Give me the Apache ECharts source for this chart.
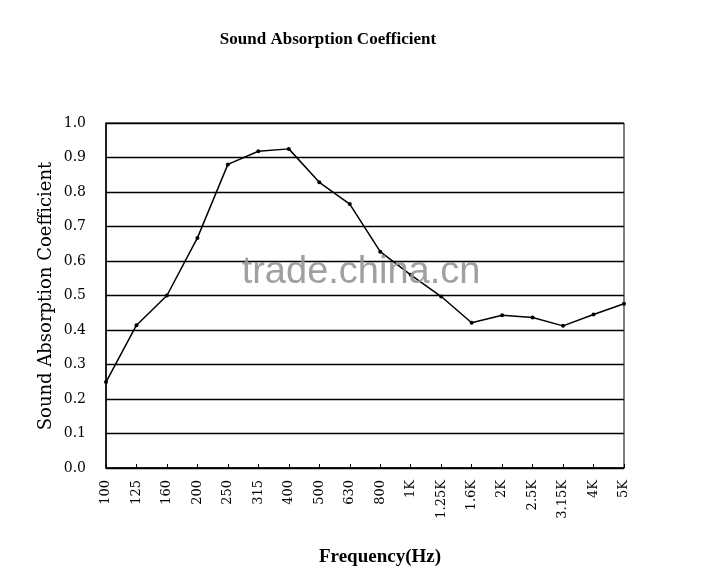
<!DOCTYPE html>
<html>
<head>
<meta charset="utf-8">
<script src="https://cdn.jsdelivr.net/npm/echarts@6/dist/echarts.min.js"></script>
<style>html,body{margin:0;padding:0;background:#fff}#c{width:720px;height:575px}</style>
</head>
<body>
<div id="c"></div>
<script>
var categories = ['100','125','160','200','250','315','400','500','630','800','1K','1.25K','1.6K','2K','2.5K','3.15K','4K','5K'];
var absorption = [0.249,0.414,0.50,0.667,0.880,0.918,0.925,0.828,0.765,0.627,0.56,0.497,0.421,0.443,0.436,0.412,0.445,0.476];
var yTicks = [0,0.1,0.2,0.3,0.4,0.5,0.6,0.7,0.8,0.9,1.0];
var titleText = 'Sound Absorption Coefficient';
var xName = 'Frequency(Hz)';
var yName = 'Sound Absorption Coefficient';
var watermark = 'trade.china.cn';

var chart = echarts.init(document.getElementById('c'), null, {renderer:'canvas'});
chart.setOption({
  backgroundColor:'#fff',
  animation:false,
  grid:{left:106,right:96,top:123,bottom:107,show:true,borderColor:'#000',borderWidth:1,backgroundColor:'transparent'},
  xAxis:{
    type:'category', data:categories, boundaryGap:false,
    axisLine:{lineStyle:{color:'#000',width:1.5}},
    axisTick:{show:true,inside:true,length:4,lineStyle:{color:'#000'}},
    axisLabel:{rotate:90,color:'#000',fontFamily:'DejaVu Serif',fontSize:13,margin:12,interval:0},
    splitLine:{show:false}
  },
  yAxis:{
    type:'value', min:yTicks[0], max:yTicks[yTicks.length-1], interval:0.1,
    axisLine:{show:true,lineStyle:{color:'#000',width:1.5}},
    axisTick:{show:false},
    axisLabel:{color:'#000',fontFamily:'DejaVu Serif',fontSize:14,margin:20,formatter:function(v){return v.toFixed(1);}},
    splitLine:{show:true,lineStyle:{color:'#000',width:1.3}}
  },
  graphic:[
    {type:'text',style:{text:titleText,x:328,y:40,align:'center',verticalAlign:'middle',font:'bold 17px "Liberation Serif"',fill:'#000'}},
    {type:'text',style:{text:xName,x:380,y:557,align:'center',verticalAlign:'middle',font:'bold 19px "Liberation Serif"',fill:'#000'}},
    {type:'text',x:46,y:296,rotation:Math.PI/2,style:{text:yName,x:0,y:0,align:'center',verticalAlign:'middle',font:'18px "DejaVu Serif"',fill:'#000'}},
    {type:'text',z:100,style:{text:watermark,x:361,y:273,align:'center',verticalAlign:'middle',font:'38px "Liberation Sans"',fill:'rgba(150,150,150,0.9)'}}
  ],
  series:[{
    type:'line', data:absorption,
    lineStyle:{color:'#000',width:1.5},
    itemStyle:{color:'#000'},
    symbol:'circle', symbolSize:4, showSymbol:true
  }]
});
</script>
</body>
</html>
